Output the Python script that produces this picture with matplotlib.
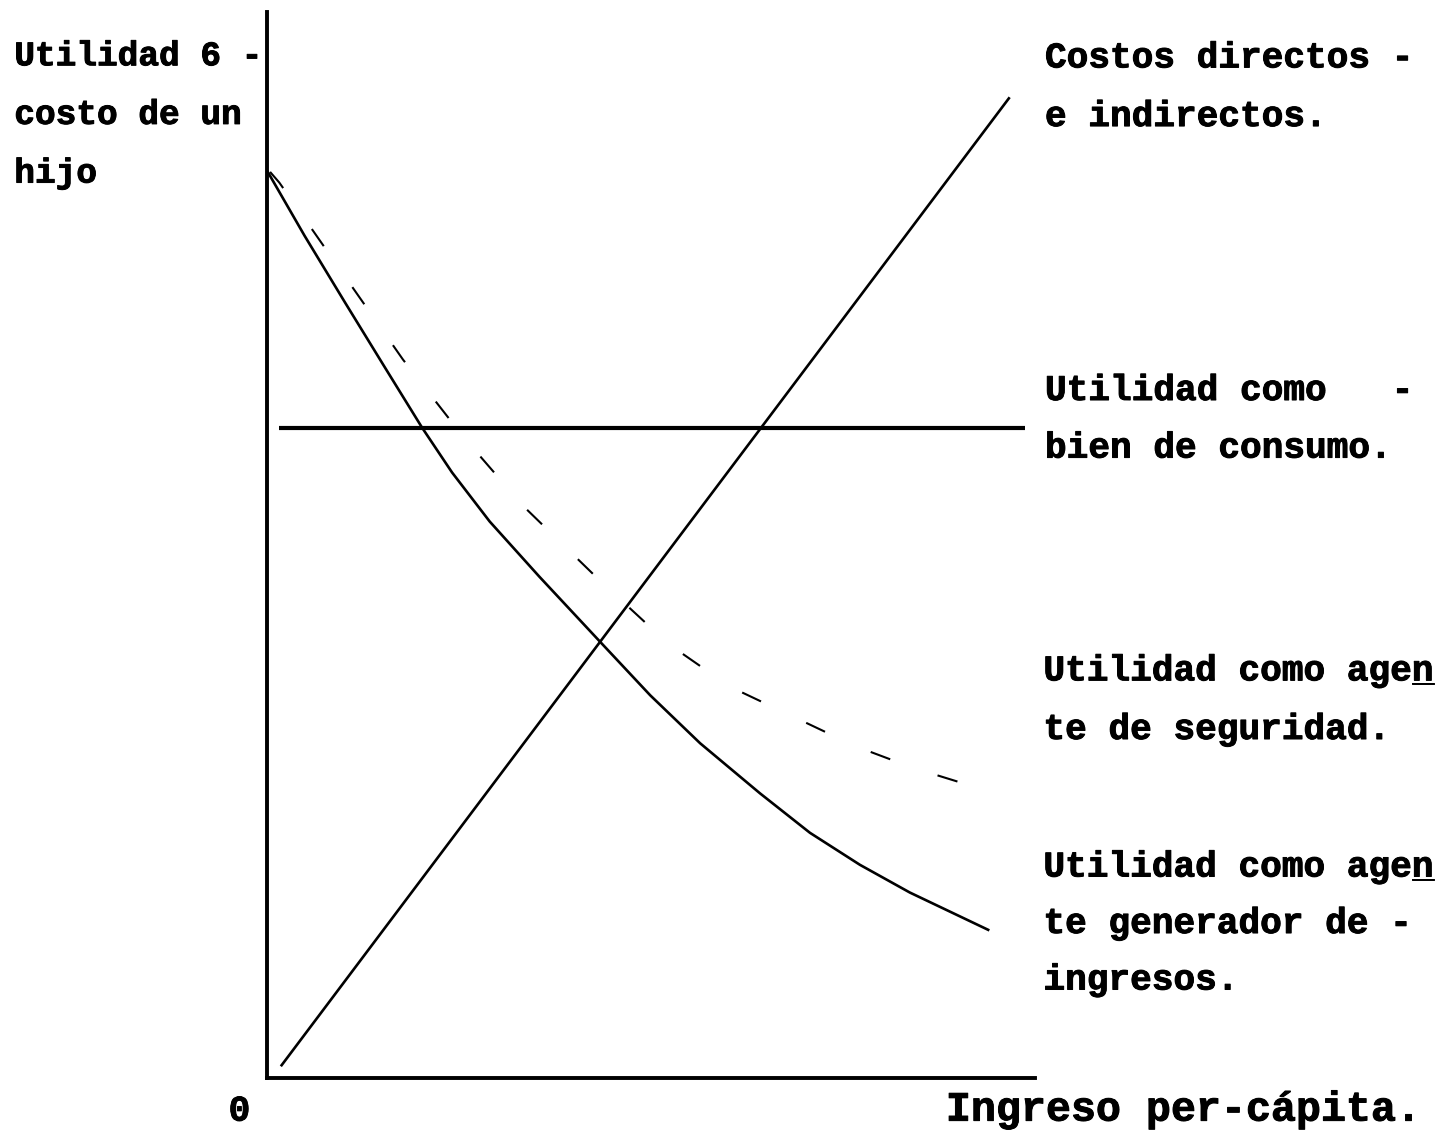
import matplotlib.pyplot as plt
import matplotlib.patheffects as pe

# Utilidad o costo de un hijo vs. ingreso per-capita (escala 0-100 en ambos ejes)

# costos directos e indirectos: recta creciente
costo_x = [1.8, 96.7]
costo_y = [1.1, 92.0]

# utilidad como bien de consumo: constante
consumo_x = [1.6, 98.7]
consumo_y = [61.0, 61.0]

# utilidad como agente generador de ingresos (linea continua)
generador_x = [0.1, 4.9, 10.2, 15.4, 20.2, 24.1, 29.0, 35.5, 43.4, 49.9,
               56.4, 64.2, 70.7, 77.2, 83.7, 93.9]
generador_y = [85.0, 79.0, 72.7, 66.6, 61.0, 56.8, 52.2, 47.0, 40.9, 35.9,
               31.4, 26.7, 23.0, 20.0, 17.4, 13.9]

# utilidad como agente de seguridad (linea discontinua)
seguridad_x = [0.4, 1.6, 5.2, 11.2, 17.7, 25.5, 33.3, 43.0, 52.3, 60.3,
               76.7, 84.1, 91.3]
seguridad_y = [85.0, 84.0, 80.3, 74.1, 67.4, 60.2, 53.7, 46.9, 40.7, 36.7,
               31.1, 29.1, 27.5]

eje_y_lineas = ["Utilidad 6 -", "costo de un", "hijo"]
etiqueta_costo = ["Costos directos -", "e indirectos."]
etiqueta_consumo = ["Utilidad como   -", "bien de consumo."]
etiqueta_seguridad = ["Utilidad como agen", "te de seguridad."]
etiqueta_generador = ["Utilidad como agen", "te generador de -", "ingresos."]
eje_x_titulo = "Ingreso per-cápita."
origen = "0"

plt.rcParams['font.family'] = ['Liberation Mono', 'DejaVu Sans Mono']

fig = plt.figure(figsize=(14.37, 11.36), dpi=100)
ax = fig.add_axes([267 / 1437, 58 / 1136, 768 / 1437, 1066 / 1136])
ax.set_xlim(0, 100)
ax.set_ylim(0, 100)

for s in ['top', 'right']:
    ax.spines[s].set_visible(False)
for s in ['left', 'bottom']:
    ax.spines[s].set_linewidth(2.8)
    ax.spines[s].set_color('black')
ax.set_xticks([])
ax.set_yticks([])

ax.plot(costo_x, costo_y, color='black', lw=1.9, solid_capstyle='butt')
ax.plot(consumo_x, consumo_y, color='black', lw=3.0, solid_capstyle='butt')
ax.plot(generador_x, generador_y, color='black', lw=1.9,
        solid_joinstyle='round')
ax.plot(seguridad_x, seguridad_y, color='black', lw=1.5,
        linestyle=(0, (10, 24)))

# tinta de maquina de escribir: un poco mas gruesa
tinta = [pe.withStroke(linewidth=0.7, foreground='black')]
tx = dict(color='black', fontweight='bold', va='baseline', ha='left',
          clip_on=False, path_effects=tinta)

# texto del eje vertical
for i, t in enumerate(eje_y_lineas):
    ax.text(-32.9, 95.0 - 5.5 * i, t, fontsize=24.8, **tx)

# etiquetas a la derecha
x_der = 101.3
for i, t in enumerate(etiqueta_costo):
    ax.text(x_der, 94.8 - 5.5 * i, t, fontsize=26, **tx)
for i, t in enumerate(etiqueta_consumo):
    ax.text(x_der, 63.6 - 5.4 * i, t, fontsize=26, **tx)
for i, t in enumerate(etiqueta_seguridad):
    ax.text(x_der - 0.2, 37.3 - 5.5 * i, t, fontsize=26, **tx)
for i, t in enumerate(etiqueta_generador):
    ax.text(x_der - 0.2, 18.9 - 5.3 * i, t, fontsize=26, **tx)

# subrayado de la "n" (a maquina, sobre-escrito)
ax.text(x_der - 0.2, 37.3, ' ' * 17 + '_', fontsize=26, **tx)
ax.text(x_der - 0.2, 18.9, ' ' * 17 + '_', fontsize=26, **tx)

ax.text(-5.0, -4.0, origen, fontsize=26, **tx)
ax.text(88.4, -4.0, eje_x_titulo, fontsize=30, **tx)

fig.savefig('out.png', dpi=100)
